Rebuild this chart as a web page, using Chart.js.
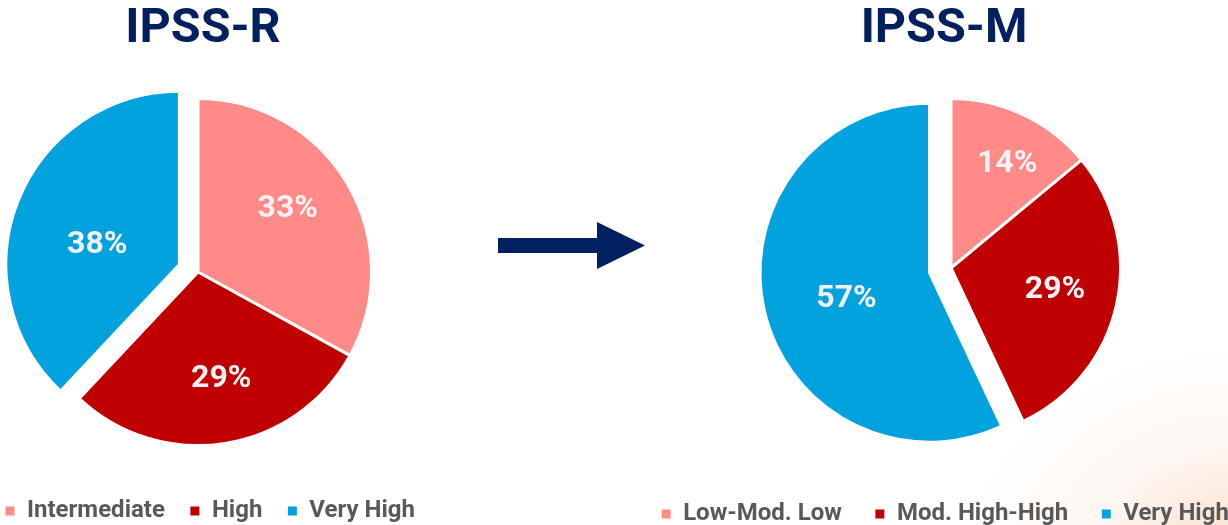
<!DOCTYPE html>
<html>
<head>
<meta charset="utf-8">
<script src="https://cdn.jsdelivr.net/npm/chart.js@4.4.1/dist/chart.umd.min.js"></script>
<style>
  html, body { margin: 0; padding: 0; }
  body {
    width: 1228px; height: 525px; overflow: hidden; position: relative;
    background:
      radial-gradient(ellipse 280px 220px at 1240px 565px, rgba(243,178,132,0.45), rgba(248,210,184,0.18) 55%, rgba(255,255,255,0) 100%),
      #ffffff;
    font-family: Roboto, sans-serif;
  }
  canvas { position: absolute; top: 0; }
  #ipssR { left: -30px; }
  #ipssM { left: 615px; }
  #arrow { position: absolute; left: 0; top: 0; }
</style>
</head>
<body>
<svg id="arrow" width="1228" height="525">
  <polygon points="498,238 597,238 597,222 645,245.5 597,269 597,253 498,253" fill="#002060"/>
</svg>
<canvas id="ipssR" width="480" height="533"></canvas>
<canvas id="ipssM" width="660" height="536"></canvas>
<script>
// Risk categories and their share of patients (%)
const ipssRLabels = ['Intermediate', 'High', 'Very High'];
const ipssRValues = [33, 29, 38];
const ipssMLabels = ['Low-Mod. Low', 'Mod. High-High', 'Very High'];
const ipssMValues = [14, 29, 57];
const sliceColors = ['#FF8A87', '#C00000', '#02A2DE'];

const NAVY = '#002060';
const LEGEND_GREY = '#595959';
const FONT = 'Roboto';

// Places the pie at a fixed point in the canvas, pulls out chosen slices
// and writes each slice's percentage on it.
const pieLayout = {
  id: 'pieLayout',
  afterLayout(chart, args, opts) {
    const half = opts.radius + 40;
    Object.assign(chart.chartArea, {
      left: opts.cx - half, right: opts.cx + half,
      top: opts.cy - half, bottom: opts.cy + half,
      width: 2 * half, height: 2 * half
    });
    const t = chart.titleBlock;
    if (t && opts.titleShift) {
      t.left += opts.titleShift;
      t.right += opts.titleShift;
    }
  },
  afterDatasetsUpdate(chart, args, opts) {
    const meta = chart.getDatasetMeta(0);
    meta.data.forEach((arc, i) => {
      const d = (opts.explode && opts.explode[i]) || 0;
      const mid = (arc.startAngle + arc.endAngle) / 2;
      arc.x += Math.cos(mid) * d;
      arc.y += Math.sin(mid) * d;
    });
  },
  afterDatasetsDraw(chart, args, opts) {
    const ctx = chart.ctx;
    const meta = chart.getDatasetMeta(0);
    const values = chart.data.datasets[0].data;
    ctx.save();
    ctx.font = 'bold 32px ' + FONT;
    ctx.fillStyle = '#F2F2F2';
    ctx.textAlign = 'center';
    ctx.textBaseline = 'middle';
    meta.data.forEach((arc, i) => {
      const [dA, frac] = opts.labelAt[i];
      const ang = (arc.startAngle + arc.endAngle) / 2 + dA * Math.PI / 180;
      const rr = arc.outerRadius * frac;
      ctx.fillText(values[i] + '%', arc.x + Math.cos(ang) * rr, arc.y + Math.sin(ang) * rr + 2);
    });
    ctx.restore();
  }
};

function legendItems(labels) {
  return () => labels.map((text, i) => ({
    text,
    fillStyle: sliceColors[i],
    strokeStyle: '#ffffff',
    lineWidth: 1,
    fontColor: LEGEND_GREY,
    hidden: false,
    index: i
  }));
}

function makePie(id, title, labels, values, layout, legendPadding) {
  return new Chart(document.getElementById(id), {
    type: 'pie',
    data: {
      labels,
      datasets: [{
        data: values,
        backgroundColor: sliceColors,
        borderColor: '#ffffff',
        borderWidth: 3,
        hoverOffset: 0,
        offset: 0
      }]
    },
    options: {
      responsive: false,
      animation: false,
      events: [],
      radius: layout.radius,
      plugins: {
        tooltip: { enabled: false },
        title: {
          display: true,
          text: title,
          color: NAVY,
          font: { family: FONT, size: 48.5, weight: 'bold', lineHeight: 1.2 },
          padding: { top: 1, bottom: 0 }
        },
        legend: {
          display: true,
          position: 'bottom',
          align: 'center',
          labels: {
            boxWidth: 10,
            boxHeight: 10,
            padding: legendPadding,
            color: LEGEND_GREY,
            font: { family: FONT, size: 24, weight: 'bold' },
            generateLabels: legendItems(labels)
          }
        },
        pieLayout: layout
      }
    },
    plugins: [pieLayout]
  });
}

function draw() {
  makePie('ipssR', 'IPSS-R', ipssRLabels, ipssRValues, {
    cx: 228, cy: 272, radius: 173.5, titleShift: -7,
    explode: [0, 0, 20],
    labelAt: [[-5.5, 0.64], [-3.5, 0.62], [-6.7, 0.49]]
  }, 25);
  makePie('ipssM', 'IPSS-M', ipssMLabels, ipssMValues, {
    cx: 336, cy: 268, radius: 169.5, titleShift: -1,
    explode: [0, 0, 22],
    labelAt: [[2.6, 0.71], [-1.6, 0.625], [-3.7, 0.51]]
  }, 33);
}

if (document.fonts && document.fonts.load) {
  Promise.all([
    document.fonts.load('bold 48.5px Roboto'),
    document.fonts.load('bold 24px Roboto'),
    document.fonts.load('bold 32px Roboto')
  ]).then(draw, draw);
} else {
  draw();
}
</script>
</body>
</html>
